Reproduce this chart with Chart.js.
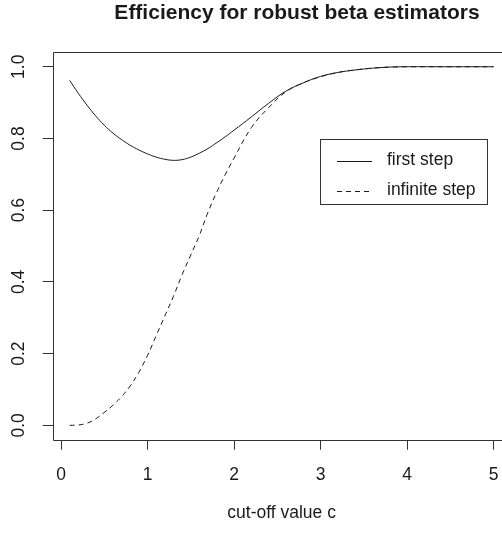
<!DOCTYPE html>
<html>
<head>
<meta charset="utf-8">
<title>Efficiency for robust beta estimators</title>
<script src="https://cdn.jsdelivr.net/npm/chart.js@4.4.1/dist/chart.umd.min.js"></script>
<style>
  html, body { margin: 0; padding: 0; background: #fff; }
  #wrap { width: 502px; height: 535px; }
</style>
</head>
<body>
<div id="wrap"><canvas id="effChart" width="502" height="535"></canvas></div>
<script>
// cut-off values c and the efficiencies
const cutoffs = [0.1, 0.2, 0.3, 0.4, 0.5, 0.6, 0.7, 0.8, 0.9, 1.0, 1.1, 1.2, 1.3, 1.4, 1.5, 1.6, 1.7, 1.8, 1.9, 2.0,
                 2.2, 2.4, 2.6, 2.8, 3.0, 3.2, 3.4, 3.6, 3.8, 4.0, 4.5, 5.0];
const firstStep = [0.962, 0.926, 0.893, 0.863, 0.837, 0.815, 0.797, 0.781, 0.768, 0.757, 0.748, 0.742, 0.739, 0.741, 0.748, 0.759, 0.772, 0.788, 0.805, 0.823,
                   0.860, 0.898, 0.932, 0.955, 0.973, 0.984, 0.991, 0.996, 0.999, 1.0, 1.0, 1.0];
const infiniteStep = [0.0, 0.001, 0.006, 0.018, 0.036, 0.056, 0.080, 0.110, 0.148, 0.195, 0.250, 0.305, 0.360, 0.420, 0.475, 0.530, 0.595, 0.650, 0.700, 0.745,
                      0.830, 0.886, 0.930, 0.955, 0.972, 0.984, 0.991, 0.996, 0.999, 1.0, 1.0, 1.0];

const xTicks = [0, 1, 2, 3, 4, 5];
const yTicks = [0, 0.2, 0.4, 0.6, 0.8, 1.0];
const yTickLabels = ['0.0', '0.2', '0.4', '0.6', '0.8', '1.0'];
const seriesNames = ['first step', 'infinite step'];

const inkColor = '#1a1a1a';
const fontFamily = "'Liberation Sans', Arial, sans-serif";
const textSize = 17.5;

// R base graphics look: box, rotated y labels, legend, titles
const rStyle = {
    id: 'rStyle',
    afterDraw(chart) {
        const { ctx, chartArea: a, scales } = chart;
        ctx.save();

        // plot box (right side falls off the canvas, as in the original)
        ctx.strokeStyle = '#333';
        ctx.lineWidth = 1;
        const l = Math.round(a.left) + 0.5, t = Math.round(a.top) + 0.5;
        const b = Math.round(a.bottom) + 0.5, r = chart.width + 10;
        ctx.beginPath();
        ctx.moveTo(r, t); ctx.lineTo(l, t); ctx.lineTo(l, b); ctx.lineTo(r, b);
        ctx.stroke();

        ctx.fillStyle = inkColor;
        ctx.font = textSize + 'px ' + fontFamily;
        ctx.textAlign = 'center';
        ctx.textBaseline = 'middle';

        // x tick labels
        scales.x.ticks.forEach(tk => {
            ctx.fillText(String(tk.value), scales.x.getPixelForValue(tk.value), 475);
        });

        // y tick labels, parallel to the axis
        yTicks.forEach((v, i) => {
            ctx.save();
            ctx.translate(19, scales.y.getPixelForValue(v));
            ctx.rotate(-Math.PI / 2);
            ctx.fillText(yTickLabels[i], 0, 0);
            ctx.restore();
        });

        // axis title, centred on the full plot region
        ctx.fillText('cut-off value c', 281.6, 513);

        // main title
        ctx.font = 'bold 21px ' + fontFamily;
        ctx.fillText('Efficiency for robust beta estimators', 297, 13);

        // legend
        ctx.strokeStyle = '#333';
        ctx.strokeRect(320.5, 139.5, 167, 65);
        ctx.font = textSize + 'px ' + fontFamily;
        ctx.textAlign = 'left';
        chart.data.datasets.forEach((ds, i) => {
            const y = 161.5 + i * 30;
            ctx.strokeStyle = ds.borderColor;
            ctx.setLineDash(ds.borderDash || []);
            ctx.beginPath();
            ctx.moveTo(337, y);
            ctx.lineTo(372, y);
            ctx.stroke();
            ctx.setLineDash([]);
            ctx.fillText(ds.label, 387, y - 1);
        });

        ctx.restore();
    }
};

new Chart(document.getElementById('effChart').getContext('2d'), {
    type: 'line',
    data: {
        datasets: [
            {
                label: seriesNames[0],
                data: cutoffs.map((c, i) => ({ x: c, y: firstStep[i] })),
                borderColor: inkColor,
                borderWidth: 1,
                pointRadius: 0,
                fill: false,
                tension: 0.4
            },
            {
                label: seriesNames[1],
                data: cutoffs.map((c, i) => ({ x: c, y: infiniteStep[i] })),
                borderColor: inkColor,
                borderWidth: 1,
                borderDash: [5, 4],
                pointRadius: 0,
                fill: false,
                tension: 0.4
            }
        ]
    },
    options: {
        responsive: false,
        animation: false,
        devicePixelRatio: 1,
        layout: { padding: { left: 52.7, top: 52.4, right: 0, bottom: 95.3 } },
        plugins: { legend: { display: false }, title: { display: false }, tooltip: { enabled: false } },
        scales: {
            x: {
                type: 'linear',
                min: -0.096,
                max: 5.098,
                afterBuildTicks: s => { s.ticks = xTicks.map(v => ({ value: v })); },
                afterFit: s => { s.height = 0; },
                ticks: { display: false },
                border: { display: false },
                grid: { drawOnChartArea: false, drawTicks: true, tickLength: 10, color: '#333', lineWidth: 1 }
            },
            y: {
                type: 'linear',
                min: -0.04,
                max: 1.04,
                afterBuildTicks: s => { s.ticks = yTicks.map(v => ({ value: v })); },
                afterFit: s => { s.width = 0; },
                ticks: { display: false },
                border: { display: false },
                grid: { drawOnChartArea: false, drawTicks: true, tickLength: 10, color: '#333', lineWidth: 1 }
            }
        }
    },
    plugins: [rStyle]
});
</script>
</body>
</html>
